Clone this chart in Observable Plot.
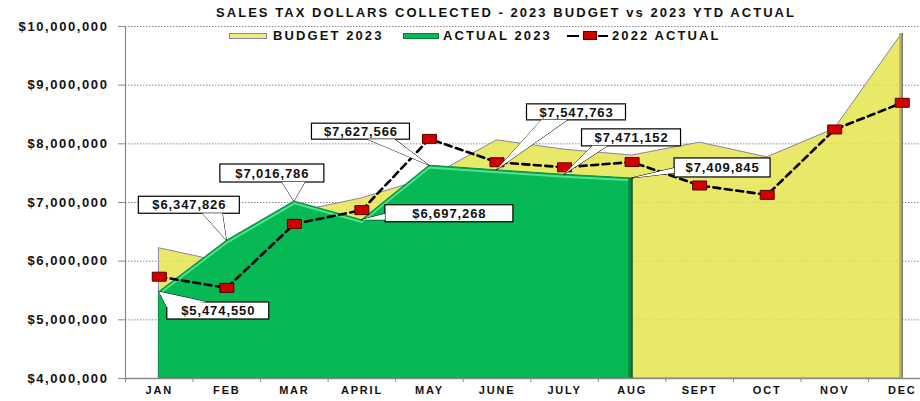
<!DOCTYPE html>
<html>
<head>
<meta charset="utf-8">
<script src="https://cdn.jsdelivr.net/npm/d3@7"></script>
<script src="https://cdn.jsdelivr.net/npm/@observablehq/plot@0.6"></script>
<style>
  html, body { margin: 0; padding: 0; background: #fff; }
  #wrap { position: relative; width: 920px; height: 401px; font-family: "Liberation Sans", Arial, sans-serif; color: #111; overflow: hidden; }
  #wrap svg { display: block; }
  .ov { position: absolute; white-space: nowrap; font-weight: bold; line-height: 1; }
  #title { font-size: 13px; letter-spacing: 2.05px; top: 5.5px; left: 506px; transform: translateX(-50%); }
  .lg { font-size: 13px; letter-spacing: 2.1px; top: 28.5px; }
  .sw { position: absolute; }
</style>
</head>
<body>
<div id="wrap"></div>
<script>
// ---------------- data ----------------
const title = "SALES TAX DOLLARS COLLECTED - 2023 BUDGET vs 2023 YTD ACTUAL";
const months = ["JAN", "FEB", "MAR", "APRIL", "MAY", "JUNE", "JULY", "AUG", "SEPT", "OCT", "NOV", "DEC"];
const seriesNames = ["BUDGET 2023", "ACTUAL 2023", "2022 ACTUAL"];
const budget2023 = [6220000, 5970000, 6830000, 7070000, 7420000, 8060000, 7900000, 7800000, 8020000, 7770000, 8255000, 9880000];
const actual2023 = [5474550, 6347826, 7016786, 6697268, 7627566, 7547763, 7471152, 7409845];
const actual2022 = [5735000, 5545000, 6635000, 6870000, 8085000, 7686000, 7600000, 7690000, 7290000, 7130000, 8245000, 8700000];
const yTicks = [4000000, 5000000, 6000000, 7000000, 8000000, 9000000, 10000000];

// callout box layout relative to the labelled point: [dx, dy, w, h, tail1x, tail1y, tail2x, tail2y]
const calloutLayout = [
  [8, 10.5, 102, 17, 40, 0, 0, 5],
  [-88, -44, 101, 17, 64, 17, 84, 17],
  [-74, -37, 104, 18, 62, 18, 85, 18],
  [23.5, -15, 128, 17, 0, 9, 0, 15],
  [-117.5, -42, 98, 16, 56, 16, 83, 16],
  [30, -66, 99, 16, 15, 16, 41, 16],
  [17.5, -45.5, 99, 17, 11, 17, 26, 17],
  [42.5, -20, 96, 19, 0, 10, 0, 15]
];

// ---------------- tables ----------------
const budgetRows = months.map((m, i) => ({i, month: m, value: budget2023[i]}));
const actualRows = actual2023.map((v, i) => ({i, month: months[i], value: v}));
const prevRows = months.map((m, i) => ({i, month: m, value: actual2022[i]}));

const fmt = d3.format("$,");
const COL = {yellow: "rgb(228,228,80)", green: "#06b955", red: "#d00000"};

const rectSymbol = {
  draw(ctx) { ctx.rect(-7, -4.5, 14, 9); }
};

function callouts(index, scales) {
  const g = d3.create("svg:g").attr("aria-label", "callouts");
  actualRows.forEach((d, k) => {
    const [dx, dy, w, h, t1x, t1y, t2x, t2y] = calloutLayout[k];
    const px = scales.x(d.i), py = scales.y(d.value);
    const bx = px + dx, by = py + dy;
    const tri = `M${px},${py}L${bx + t1x},${by + t1y}L${bx + t2x},${by + t2y}Z`;
    g.append("path").attr("d", tri).attr("fill", "#fff").attr("stroke", "#000").attr("stroke-width", 1);
    g.append("rect").attr("x", bx).attr("y", by).attr("width", w).attr("height", h)
      .attr("fill", "#fff").attr("stroke", "#000").attr("stroke-width", 1.2);
    g.append("path").attr("d", tri).attr("fill", "#fff").attr("stroke", "none");
    g.append("text").attr("x", bx + w / 2 + 0.5).attr("y", by + h / 2).attr("dy", "0.36em")
      .attr("text-anchor", "middle").attr("font-size", 13).attr("font-weight", "bold")
      .style("letter-spacing", "0.9px").attr("fill", "#111").text(fmt(d.value));
  });
  return g.node();
}

const chart = Plot.plot({
  width: 920,
  height: 401,
  marginLeft: 125,
  marginRight: 0,
  marginTop: 26,
  marginBottom: 23,
  style: {fontFamily: "'Liberation Sans', Arial, sans-serif", color: "#111", background: "transparent", overflow: "visible"},
  x: {type: "linear", domain: [-0.5, 11.27], label: null},
  y: {domain: [4000000, 10000000], label: null},
  marks: [
    Plot.gridY(yTicks, {stroke: "#8a8a8a", strokeOpacity: 1, strokeDasharray: "1.5,1.5", strokeWidth: 1}),
    // budget area
    Plot.areaY(budgetRows, {x: "i", y1: 4000000, y2: "value", fill: COL.yellow, fillOpacity: 0.86, stroke: "#8c80a8", strokeWidth: 1}),
    Plot.ruleX(budgetRows.filter(d => d.i === months.length - 1), {x: "i", y1: 4000000, y2: "value", stroke: "#b4b45a", strokeWidth: 3, dx: -1.5}),
    Plot.ruleX(budgetRows.filter(d => d.i === months.length - 1), {x: "i", y1: 4000000, y2: "value", stroke: "#707070", strokeWidth: 1.2}),
    // actual 2023 area
    Plot.areaY(actualRows, {x: "i", y1: 4000000, y2: "value", fill: COL.green, stroke: "#079445", strokeWidth: 1}),
    Plot.lineY(actualRows, {x: "i", y: "value", stroke: "#52e090", strokeWidth: 2, dy: 1.8}),
    Plot.lineY(actualRows, {x: "i", y: "value", stroke: "#0a9a48", strokeWidth: 1}),
    Plot.ruleX(actualRows.filter(d => d.i === actualRows.length - 1), {x: "i", y1: 4000000, y2: "value", stroke: "#078a3f", strokeWidth: 4, dx: -2}),
    Plot.ruleX(actualRows.filter(d => d.i === actualRows.length - 1), {x: "i", y1: 4000000, y2: "value", stroke: "#0b4d26", strokeWidth: 1.2}),
    // axes lines
    Plot.ruleX([-0.5], {stroke: "#8a8a8a", strokeWidth: 1.2}),
    Plot.ruleY([4000000], {stroke: "#8a8a8a", strokeWidth: 1.5}),
    Plot.axisY({ticks: yTicks, tickFormat: d => fmt(d), tickSize: 7, tickPadding: 10, stroke: "#8a8a8a", fill: "#111", fontSize: 13, fontWeight: "bold", label: null}),
    Plot.axisX({ticks: d3.range(-0.5, 11, 1), tickFormat: () => "", tickSize: 4, stroke: "#8a8a8a", label: null}),
    Plot.axisX({ticks: d3.range(0, 12), tickFormat: i => months[i], tickSize: 0, tickPadding: 8, fill: "#111", fontSize: 11, fontWeight: "bold", label: null}),
    // 2022 actual
    Plot.lineY(prevRows, {x: "i", y: "value", stroke: "#000", strokeWidth: 2.6, strokeDasharray: "7,4.5"}),
    Plot.dot(prevRows, {x: "i", y: "value", symbol: rectSymbol, r: 5, fill: COL.red, stroke: "#5a0000", strokeWidth: 1}),
    // callouts
    callouts
  ]
});

d3.select(chart).selectAll('g[aria-label="y-axis tick label"] text').style("letter-spacing", "1.6px");
d3.select(chart).selectAll('g[aria-label="x-axis tick label"] text').style("letter-spacing", "1.8px");

const wrap = document.getElementById("wrap");
wrap.appendChild(chart);

// title and legend overlays
const t = document.createElement("div");
t.className = "ov"; t.id = "title"; t.textContent = title;
wrap.appendChild(t);

function addSwatch(left, top, w, h, bg, border) {
  const s = document.createElement("div");
  s.className = "sw";
  s.style.cssText = `left:${left}px;top:${top}px;width:${w}px;height:${h}px;background:${bg};border:1px solid ${border};box-sizing:border-box;`;
  wrap.appendChild(s);
}
function addLabel(left, text) {
  const l = document.createElement("div");
  l.className = "ov lg"; l.style.left = left + "px"; l.textContent = text;
  wrap.appendChild(l);
}
addSwatch(229, 32.5, 38, 6, "#eeee80", "#8c80a8");
addLabel(273, seriesNames[0]);
addSwatch(403, 32.5, 36, 6, "#06b955", "#067a38");
addLabel(443, seriesNames[1]);
addSwatch(567, 34.5, 12, 2.6, "#000", "#000");
addSwatch(583, 31, 14, 9, COL.red, "#5a0000");
addSwatch(598, 34.5, 10, 2.6, "#000", "#000");
addLabel(612, seriesNames[2]);
</script>
</body>
</html>
